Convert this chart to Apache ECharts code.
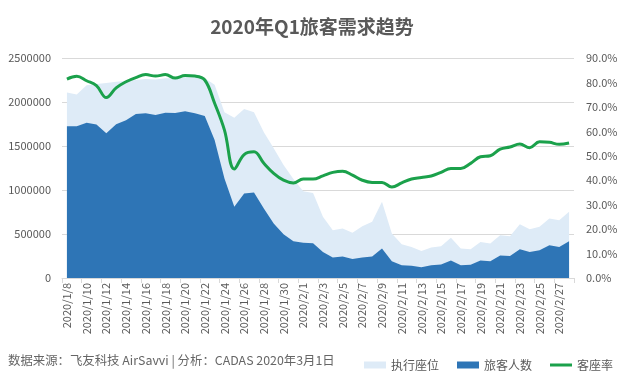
<!DOCTYPE html>
<html>
<head>
<meta charset="utf-8">
<script src="https://cdn.jsdelivr.net/npm/echarts@6/dist/echarts.min.js"></script>
<style>
html,body{margin:0;padding:0;background:#fff;}
#c{width:624px;height:377px;}
</style>
</head>
<body>
<div id="c"></div>
<script>
var categories = [
'2020/1/8','2020/1/9','2020/1/10','2020/1/11','2020/1/12','2020/1/13','2020/1/14','2020/1/15',
'2020/1/16','2020/1/17','2020/1/18','2020/1/19','2020/1/20','2020/1/21','2020/1/22','2020/1/23',
'2020/1/24','2020/1/25','2020/1/26','2020/1/27','2020/1/28','2020/1/29','2020/1/30','2020/1/31',
'2020/2/1','2020/2/2','2020/2/3','2020/2/4','2020/2/5','2020/2/6','2020/2/7','2020/2/8',
'2020/2/9','2020/2/10','2020/2/11','2020/2/12','2020/2/13','2020/2/14','2020/2/15','2020/2/16',
'2020/2/17','2020/2/18','2020/2/19','2020/2/20','2020/2/21','2020/2/22','2020/2/23','2020/2/24',
'2020/2/25','2020/2/26','2020/2/27','2020/2/28'
];
// 执行座位
var seats = [
2107000,2085000,2190000,2205000,2215000,2230000,2240000,2250000,
2260000,2255000,2270000,2270000,2280000,2280000,2270000,2195000,
1884000,1822000,1921000,1884000,1656000,1474000,1284000,1124000,
985000,965000,695000,543000,563000,513000,589000,638000,
866000,506000,384000,353000,308000,346000,361000,456000,
335000,327000,410000,392000,486000,475000,612000,555000,
581000,677000,657000,752000
];
// 旅客人数
var passengers = [
1724000,1724000,1765000,1743000,1645000,1747000,1793000,1864000,
1872000,1853000,1879000,1875000,1895000,1872000,1840000,1568000,
1132000,809000,961000,973000,790000,620000,498000,418000,
400000,395000,296000,232000,243000,217000,232000,243000,
335000,190000,145000,140000,122000,145000,152000,200000,
145000,150000,200000,190000,255000,250000,327000,296000,
315000,372000,353000,418000
];
// 客座率 (%)
var loadFactor = [
81.4,82.5,80.7,78.7,73.8,77.8,80.3,82.0,
83.2,82.6,83.2,81.8,82.8,82.6,81.0,71.5,
60.5,44.6,50.5,51.6,46.9,42.8,40.0,38.9,
40.5,40.5,41.8,43.2,43.7,42.1,40.0,39.1,
39.1,37.2,38.9,40.5,41.1,41.7,43.2,44.8,
44.8,46.9,49.6,50.0,52.7,53.6,54.8,53.3,
55.7,55.5,54.7,55.2
];
var leftTicks = {min:0, max:2500000, interval:500000};
var rightTicks = {min:0, max:90, interval:10};

var FONT = '"Noto Sans CJK SC", "Noto Sans", sans-serif';
var chart = echarts.init(document.getElementById('c'), null, {renderer:'canvas'});
chart.setOption({
  animation:false,
  backgroundColor:'#ffffff',
  title:{
    text:'2020年Q1旅客需求趋势',
    left:'center', top:12,
    textStyle:{fontSize:19, fontWeight:'bold', color:'#595959', fontFamily:FONT}
  },
  graphic:[{
    type:'text', left:8, top:354,
    style:{text:'数据来源：飞友科技 AirSavvi | 分析：CADAS 2020年3月1日', fill:'#666666', font:'12.4px ' + FONT}
  }],
  legend:{
    right:6, top:354,
    itemWidth:22, itemHeight:7, itemGap:18,
    textStyle:{fontSize:12, color:'#595959', fontFamily:FONT},
    data:[
      {name:'执行座位', icon:'rect'},
      {name:'旅客人数', icon:'rect'},
      {name:'客座率', icon:'path://M0,0 M22,7 M0,2 L22,2 L22,5 L0,5 Z'}
    ]
  },
  grid:{left:62, right:50, top:58, bottom:99},
  xAxis:{
    type:'category', data:categories, boundaryGap:true,
    axisLine:{lineStyle:{color:'#d9d9d9'}},
    axisTick:{show:true, interval:1, length:5, lineStyle:{color:'#d9d9d9'}},
    axisLabel:{interval:1, rotate:90, fontSize:11, color:'#595959', fontFamily:FONT, margin:5}
  },
  yAxis:[{
    type:'value', min:leftTicks.min, max:leftTicks.max, interval:leftTicks.interval,
    axisLine:{show:false}, axisTick:{show:false},
    splitLine:{lineStyle:{color:'#d9d9d9'}},
    axisLabel:{fontSize:11, color:'#595959', fontFamily:FONT, margin:11,
      formatter:function(v){return String(v);}}
  },{
    type:'value', min:rightTicks.min, max:rightTicks.max, interval:rightTicks.interval,
    axisLine:{show:false}, axisTick:{show:false}, splitLine:{show:false},
    axisLabel:{fontSize:11, color:'#595959', fontFamily:FONT, margin:12,
      formatter:function(v){return v.toFixed(1)+'%';}}
  }],
  series:[{
    name:'执行座位', type:'line', data:seats, symbol:'none',
    lineStyle:{width:0}, itemStyle:{color:'#DEEBF7'},
    areaStyle:{color:'#DEEBF7', opacity:1}
  },{
    name:'旅客人数', type:'line', data:passengers, symbol:'none',
    lineStyle:{width:0}, itemStyle:{color:'#2E75B6'},
    areaStyle:{color:'#2E75B6', opacity:1}
  },{
    name:'客座率', type:'line', yAxisIndex:1, data:loadFactor, symbol:'none',
    smooth:0.4, itemStyle:{color:'#1BA14B'},
    lineStyle:{width:3, color:'#1BA14B'}
  }]
});
</script>
</body>
</html>
